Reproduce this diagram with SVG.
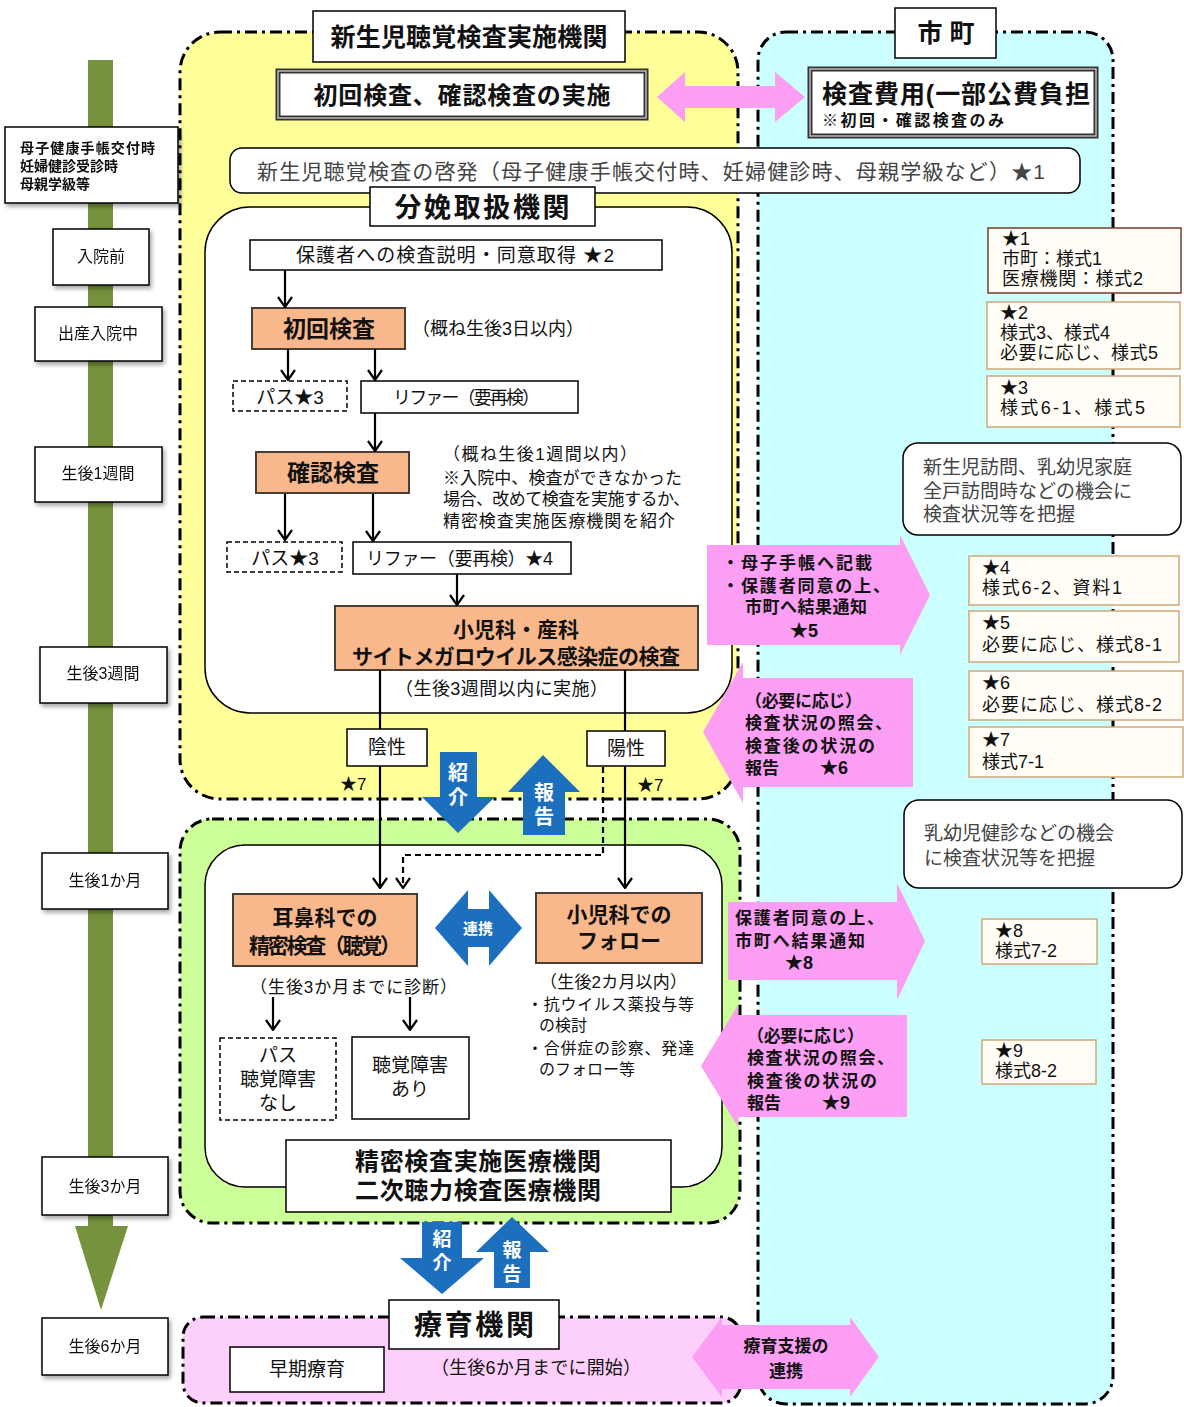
<svg xmlns="http://www.w3.org/2000/svg" width="1184" height="1407" viewBox="0 0 1184 1407">
<defs>
<style>
text{font-family:"Liberation Sans","Noto Sans CJK JP","Noto Sans CJK SC",sans-serif;fill:#111}
.b{font-weight:bold}
.reg{stroke:#000;stroke-width:3;stroke-dasharray:12 5 3 5}
.box{fill:#fff;stroke:#000;stroke-width:1.5}
.dbox{fill:#fff;stroke:#000;stroke-width:1.5;stroke-dasharray:5 3}
.org{fill:#f9b88c;stroke:#4a3f35;stroke-width:2}
.star{fill:#fffdf6;stroke:#cfa878;stroke-width:1.5}
.pk{fill:#fb9ef4}
.bl{fill:#1c6fbd}
.wt{fill:#fff;font-weight:bold}
.ln{stroke:#000;stroke-width:2.2;fill:none}
.gray{fill:#444}
.st{font-size:18px}
</style>
<marker id="ah" viewBox="0 0 12 16" refX="11" refY="8" markerWidth="12" markerHeight="16" markerUnits="userSpaceOnUse" orient="auto"><path d="M1,1 L11,8 L1,15" fill="none" stroke="#000" stroke-width="2.2"/></marker>
<filter id="sh" x="-10%" y="-10%" width="130%" height="140%"><feDropShadow dx="2" dy="3" stdDeviation="2" flood-color="#000" flood-opacity="0.35"/></filter>
</defs>
<rect width="1184" height="1407" fill="#fff"/>

<!-- regions -->
<g id="region-city">
<rect x="758" y="32" width="355" height="1372" rx="28" fill="#ccffff" class="reg"/>
</g>
<g id="region-hospital">
<rect x="180" y="32" width="558" height="767" rx="40" fill="#ffff99" class="reg"/>
<rect x="205" y="207" width="527" height="506" rx="45" class="box"/>
</g>
<g id="region-precise">
<rect x="180" y="819" width="560" height="404" rx="32" fill="#ccff99" class="reg"/>
<rect x="205" y="845" width="517" height="342" rx="40" class="box"/>
</g>
<g id="region-ryoiku">
<rect x="183" y="1317" width="558" height="86" rx="20" fill="#fcd0fa" class="reg"/>
</g>

<!-- timeline -->
<g id="timeline">
<rect x="88" y="60" width="25" height="1170" fill="#76923c"/>
<polygon points="75,1226 128,1226 101,1310" fill="#76923c"/>
</g>
<g id="t-boshi" filter="url(#sh)"><rect x="5" y="127" width="173" height="76" class="box"/>
<text x="20" y="153" font-size="14" class="b" textLength="135">母子健康手帳交付時</text>
<text x="20" y="171" font-size="14" class="b">妊婦健診受診時</text>
<text x="20" y="189" font-size="14" class="b">母親学級等</text></g>
<g id="t-nyuinmae" filter="url(#sh)"><rect x="53" y="229" width="96" height="56" class="box"/><text x="101" y="262" font-size="16" text-anchor="middle">入院前</text></g>
<g id="t-shussan" filter="url(#sh)"><rect x="35" y="307" width="127" height="54" class="box"/><text x="98" y="339" font-size="16" text-anchor="middle">出産入院中</text></g>
<g id="t-1w" filter="url(#sh)"><rect x="35" y="447" width="127" height="55" class="box"/><text x="98" y="479" font-size="16" text-anchor="middle">生後1週間</text></g>
<g id="t-3w" filter="url(#sh)"><rect x="40" y="647" width="127" height="56" class="box"/><text x="103" y="679" font-size="16" text-anchor="middle">生後3週間</text></g>
<g id="t-1m" filter="url(#sh)"><rect x="42" y="853" width="126" height="56" class="box"/><text x="105" y="886" font-size="16" text-anchor="middle">生後1か月</text></g>
<g id="t-3m" filter="url(#sh)"><rect x="42" y="1157" width="126" height="58" class="box"/><text x="105" y="1192" font-size="16" text-anchor="middle">生後3か月</text></g>
<g id="t-6m" filter="url(#sh)"><rect x="42" y="1318" width="126" height="57" class="box"/><text x="105" y="1352" font-size="16" text-anchor="middle">生後6か月</text></g>

<!-- region titles and top nodes -->
<g id="title-hospital"><rect x="313" y="11" width="312" height="51" class="box"/><text x="469" y="46" font-size="25" class="b" text-anchor="middle" textLength="277">新生児聴覚検査実施機関</text></g>
<g id="title-city"><rect x="895" y="8" width="101" height="50" class="box"/><text x="946" y="42" font-size="25" class="b" text-anchor="middle">市 町</text></g>
<g id="jisshi"><rect x="278" y="71" width="368" height="47" fill="#fff" stroke="#333" stroke-width="5"/><rect x="278" y="71" width="368" height="47" fill="none" stroke="#bbb" stroke-width="1.5"/><text x="462" y="104" font-size="24" class="b" text-anchor="middle" textLength="297">初回検査、確認検査の実施</text></g>
<g id="hiyo"><rect x="810" y="69" width="286" height="67" fill="#fff" stroke="#333" stroke-width="5"/><rect x="810" y="69" width="286" height="67" fill="none" stroke="#bbb" stroke-width="1.5"/><text x="822" y="103" font-size="25" class="b" textLength="268">検査費用(一部公費負担</text><text x="822" y="126" font-size="16" class="b" textLength="182">※初回・確認検査のみ</text></g>
<g id="keihatsu"><rect x="230" y="148" width="850" height="45" rx="12" class="box"/><text x="257" y="179" font-size="21" class="gray" textLength="788">新生児聴覚検査の啓発（母子健康手帳交付時、妊婦健診時、母親学級など）★1</text></g>
<g id="title-bunben"><rect x="370" y="187" width="225" height="39" class="box"/><text x="482" y="217" font-size="27" class="b" text-anchor="middle" textLength="175">分娩取扱機関</text></g>

<!-- hospital flow nodes -->
<g id="setsumei"><rect x="250" y="240" width="412" height="30" class="box"/><text x="296" y="262" font-size="19" textLength="318">保護者への検査説明・同意取得 ★2</text></g>
<g id="shokai"><rect x="252" y="308" width="153" height="41" class="org"/><text x="329" y="337" font-size="23" class="b" text-anchor="middle">初回検査</text></g>
<text x="412" y="335" font-size="18" textLength="172">（概ね生後3日以内）</text>
<g id="pass1"><rect x="233" y="381" width="114" height="30" class="dbox"/><text x="290" y="404" font-size="19" text-anchor="middle">パス★3</text></g>
<g id="refer1"><rect x="361" y="381" width="217" height="32" class="box"/><text x="393" y="404" font-size="18" textLength="147">リファー（要再検）</text></g>
<g id="kakunin"><rect x="256" y="452" width="153" height="41" class="org"/><text x="333" y="481" font-size="23" class="b" text-anchor="middle">確認検査</text></g>
<g id="kakunin-note">
<text x="443" y="460" font-size="17" textLength="194">（概ね生後1週間以内）</text>
<text x="443" y="484" font-size="17" textLength="239">※入院中、検査ができなかった</text>
<text x="443" y="505" font-size="17" textLength="247">場合、改めて検査を実施するか、</text>
<text x="443" y="527" font-size="17" textLength="232">精密検査実施医療機関を紹介</text>
</g>
<g id="pass2"><rect x="227" y="542" width="115" height="30" class="dbox"/><text x="285" y="565" font-size="19" text-anchor="middle">パス★3</text></g>
<g id="refer2"><rect x="353" y="542" width="218" height="32" class="box"/><text x="366" y="565" font-size="18" textLength="187">リファー（要再検）★4</text></g>
<g id="cmv"><rect x="335" y="606" width="363" height="64" class="org"/><text x="516" y="637" font-size="21" class="b" text-anchor="middle">小児科・産科</text><text x="516" y="664" font-size="21" class="b" text-anchor="middle" textLength="328">サイトメガロウイルス感染症の検査</text></g>
<text x="395" y="695" font-size="18" textLength="213">（生後3週間以内に実施）</text>
<g id="insei"><rect x="347" y="729" width="80" height="37" class="box"/><text x="387" y="754" font-size="19" text-anchor="middle">陰性</text></g>
<g id="yousei"><rect x="587" y="731" width="78" height="35" class="box"/><text x="626" y="755" font-size="19" text-anchor="middle">陽性</text></g>
<text x="340" y="790" font-size="17">★7</text>
<text x="637" y="791" font-size="17">★7</text>

<!-- blue arrows -->
<g id="shokai-arrow1"><polygon points="440,752 477,752 477,797 495,797 458,833 422,797 440,797" class="bl"/><text x="458" y="780" font-size="20" class="wt" text-anchor="middle">紹</text><text x="458" y="805" font-size="20" class="wt" text-anchor="middle">介</text></g>
<g id="hokoku-arrow1"><polygon points="543,755 580,792 565,792 565,835 523,835 523,792 508,792" class="bl"/><text x="544" y="800" font-size="20" class="wt" text-anchor="middle">報</text><text x="544" y="824" font-size="20" class="wt" text-anchor="middle">告</text></g>

<!-- precise exam nodes -->
<g id="jibika"><rect x="233" y="894" width="184" height="72" class="org"/><text x="325" y="925" font-size="21" class="b" text-anchor="middle">耳鼻科での</text><text x="325" y="953" font-size="21" class="b" text-anchor="middle" textLength="152">精密検査（聴覚）</text></g>
<g id="renkei"><polygon points="435,928 468,890 468,909 489,909 489,890 522,928 489,966 489,947 468,947 468,966" class="bl"/><text x="478" y="934" font-size="15" class="wt" text-anchor="middle">連携</text></g>
<g id="shonika"><rect x="536" y="893" width="166" height="70" class="org"/><text x="619" y="922" font-size="21" class="b" text-anchor="middle">小児科での</text><text x="619" y="948" font-size="21" class="b" text-anchor="middle">フォロー</text></g>
<text x="250" y="993" font-size="17" textLength="207">（生後3か月までに診断）</text>
<text x="540" y="988" font-size="17" textLength="147">（生後2カ月以内）</text>
<text x="527" y="1010" font-size="16" textLength="167">・抗ウイルス薬投与等</text>
<text x="539" y="1031" font-size="16">の検討</text>
<text x="527" y="1054" font-size="16" textLength="167">・合併症の診察、発達</text>
<text x="539" y="1075" font-size="16">のフォロー等</text>
<g id="pass3"><rect x="220" y="1038" width="116" height="82" class="dbox"/><text x="278" y="1062" font-size="19" text-anchor="middle">パス</text><text x="278" y="1086" font-size="19" text-anchor="middle">聴覚障害</text><text x="278" y="1110" font-size="19" text-anchor="middle">なし</text></g>
<g id="shogai"><rect x="352" y="1037" width="117" height="82" class="box"/><text x="410" y="1072" font-size="19" text-anchor="middle">聴覚障害</text><text x="410" y="1096" font-size="19" text-anchor="middle">あり</text></g>
<g id="seimitsu"><rect x="286" y="1140" width="385" height="72" class="box"/><text x="478" y="1170" font-size="24" class="b" text-anchor="middle" textLength="246">精密検査実施医療機関</text><text x="478" y="1199" font-size="24" class="b" text-anchor="middle" textLength="246">二次聴力検査医療機関</text></g>

<g id="shokai-arrow2"><polygon points="422,1222 462,1222 462,1258 484,1258 442,1294 400,1258 422,1258" class="bl"/><text x="442" y="1246" font-size="19" class="wt" text-anchor="middle">紹</text><text x="442" y="1270" font-size="19" class="wt" text-anchor="middle">介</text></g>
<g id="hokoku-arrow2"><polygon points="512,1217 549,1252 530,1252 530,1288 494,1288 494,1252 476,1252" class="bl"/><text x="512" y="1257" font-size="19" class="wt" text-anchor="middle">報</text><text x="512" y="1281" font-size="19" class="wt" text-anchor="middle">告</text></g>

<!-- ryoiku -->
<g id="title-ryoiku"><rect x="389" y="1300" width="170" height="49" class="box"/><text x="474" y="1335" font-size="28" class="b" text-anchor="middle" textLength="120">療育機関</text></g>
<g id="soki"><rect x="230" y="1347" width="154" height="45" class="box"/><text x="307" y="1376" font-size="19" text-anchor="middle">早期療育</text></g>
<text x="431" y="1374" font-size="18" textLength="210">（生後6か月までに開始）</text>

<!-- pink arrows -->
<g id="pk-top"><polygon points="657,97 685,72 685,86 775,86 775,72 805,97 775,122 775,108 685,108 685,122" class="pk"/></g>
<g id="pk-5"><polygon points="707,545 900,545 900,535 930,595 900,655 900,645 707,645" class="pk"/>
<text x="722" y="569" font-size="17" class="b" textLength="150">・母子手帳へ記載</text>
<text x="722" y="592" font-size="17" class="b" textLength="168">・保護者同意の上、</text>
<text x="745" y="613" font-size="17" class="b" textLength="122">市町へ結果通知</text>
<text x="790" y="637" font-size="18" class="b">★5</text></g>
<g id="pk-6"><polygon points="703,732 743,662 743,678 913,678 913,787 743,787 743,803" class="pk"/>
<text x="745" y="707" font-size="17" class="b" textLength="117">（必要に応じ）</text>
<text x="745" y="729" font-size="17" class="b" textLength="147">検査状況の照会、</text>
<text x="745" y="752" font-size="17" class="b" textLength="130">検査後の状況の</text>
<text x="745" y="774" font-size="17" class="b">報告</text><text x="820" y="774" font-size="18" class="b">★6</text></g>
<g id="pk-8"><polygon points="728,902 897,902 897,883 925,941 897,1000 897,980 728,980" class="pk"/>
<text x="735" y="924" font-size="17" class="b" textLength="149">保護者同意の上、</text>
<text x="735" y="947" font-size="17" class="b" textLength="130">市町へ結果通知</text>
<text x="785" y="969" font-size="18" class="b">★8</text></g>
<g id="pk-9"><polygon points="701,1066 738,1005 738,1015 907,1015 907,1117 738,1117 738,1127" class="pk"/>
<text x="747" y="1042" font-size="17" class="b" textLength="117">（必要に応じ）</text>
<text x="747" y="1064" font-size="17" class="b" textLength="147">検査状況の照会、</text>
<text x="747" y="1087" font-size="17" class="b" textLength="130">検査後の状況の</text>
<text x="747" y="1109" font-size="17" class="b">報告</text><text x="822" y="1109" font-size="18" class="b">★9</text></g>
<g id="pk-ryoiku"><polygon points="692,1357 722,1317 722,1325 850,1325 850,1317 879,1357 850,1397 850,1389 722,1389 722,1397" class="pk"/>
<text x="786" y="1352" font-size="17" class="b" text-anchor="middle">療育支援の</text>
<text x="786" y="1377" font-size="17" class="b" text-anchor="middle">連携</text></g>

<!-- city side nodes -->
<g id="star1"><rect x="988" y="228" width="193" height="65" fill="#fffdf6" stroke="#7a3b2a" stroke-width="1.5"/><text x="1002" y="245" class="st">★1</text><text x="1002" y="265" class="st">市町：様式1</text><text x="1002" y="285" class="st" textLength="141">医療機関：様式2</text></g>
<g id="star2"><rect x="987" y="302" width="193" height="67" class="star"/><text x="1000" y="319" class="st">★2</text><text x="1000" y="339" class="st">様式3、様式4</text><text x="1000" y="359" class="st" textLength="158">必要に応じ、様式5</text></g>
<g id="star3"><rect x="987" y="376" width="193" height="51" class="star"/><text x="1000" y="394" class="st">★3</text><text x="1000" y="414" class="st" textLength="145">様式6-1、様式5</text></g>
<g id="homon"><rect x="903" y="443" width="278" height="92" rx="15" class="box"/><text x="923" y="474" font-size="19" class="gray">新生児訪問、乳幼児家庭</text><text x="923" y="498" font-size="19" class="gray">全戸訪問時などの機会に</text><text x="923" y="521" font-size="19" class="gray">検査状況等を把握</text></g>
<g id="star4"><rect x="969" y="556" width="210" height="49" class="star"/><text x="982" y="574" class="st">★4</text><text x="982" y="594" class="st" textLength="140">様式6-2、資料1</text></g>
<g id="star5"><rect x="969" y="611" width="210" height="51" class="star"/><text x="982" y="629" class="st">★5</text><text x="982" y="651" class="st" textLength="180">必要に応じ、様式8-1</text></g>
<g id="star6"><rect x="969" y="671" width="214" height="49" class="star"/><text x="982" y="689" class="st">★6</text><text x="982" y="711" class="st" textLength="180">必要に応じ、様式8-2</text></g>
<g id="star7"><rect x="969" y="727" width="214" height="50" class="star"/><text x="982" y="746" class="st">★7</text><text x="982" y="768" class="st">様式7-1</text></g>
<g id="kenshin"><rect x="904" y="800" width="278" height="88" rx="15" class="box"/><text x="924" y="840" font-size="19" class="gray">乳幼児健診などの機会</text><text x="924" y="865" font-size="19" class="gray">に検査状況等を把握</text></g>
<g id="star8"><rect x="982" y="919" width="115" height="45" class="star"/><text x="995" y="937" class="st">★8</text><text x="995" y="957" class="st">様式7-2</text></g>
<g id="star9"><rect x="982" y="1040" width="114" height="44" class="star"/><text x="995" y="1057" class="st">★9</text><text x="995" y="1077" class="st">様式8-2</text></g>

<!-- connectors -->
<g id="connectors">
<line x1="285" y1="270" x2="285" y2="307" class="ln" marker-end="url(#ah)"/>
<line x1="288" y1="349" x2="288" y2="380" class="ln" marker-end="url(#ah)"/>
<line x1="375" y1="349" x2="375" y2="380" class="ln" marker-end="url(#ah)"/>
<line x1="375" y1="413" x2="375" y2="451" class="ln" marker-end="url(#ah)"/>
<line x1="285" y1="494" x2="285" y2="540" class="ln" marker-end="url(#ah)"/>
<line x1="373" y1="494" x2="373" y2="541" class="ln" marker-end="url(#ah)"/>
<line x1="457" y1="574" x2="457" y2="605" class="ln" marker-end="url(#ah)"/>
<line x1="380" y1="670" x2="380" y2="729" class="ln"/>
<line x1="380" y1="766" x2="380" y2="888" class="ln" marker-end="url(#ah)"/>
<line x1="625" y1="670" x2="625" y2="731" class="ln"/>
<line x1="625" y1="766" x2="625" y2="888" class="ln" marker-end="url(#ah)"/>
<polyline points="603,767 603,855 403,855 403,888" class="ln" stroke-dasharray="6 4" marker-end="url(#ah)"/>
<line x1="273" y1="997" x2="273" y2="1030" class="ln" marker-end="url(#ah)"/>
<line x1="410" y1="997" x2="410" y2="1030" class="ln" marker-end="url(#ah)"/>
</g>
</svg>
